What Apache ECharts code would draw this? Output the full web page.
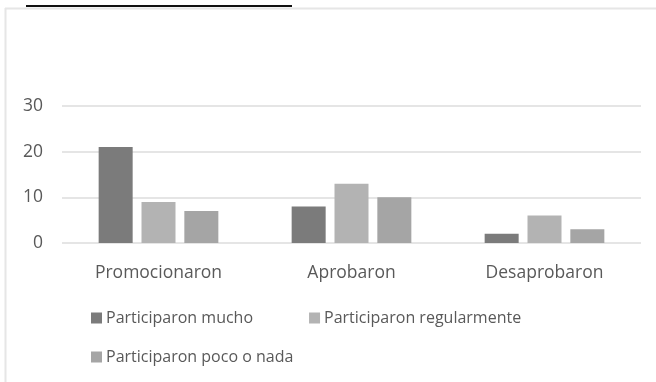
<!DOCTYPE html>
<html>
<head>
<meta charset="utf-8">
<script src="https://cdn.jsdelivr.net/npm/echarts@6/dist/echarts.min.js"></script>
<style>
  html, body { margin: 0; padding: 0; background: #fff; }
  #chart { width: 656px; height: 382px; }
</style>
</head>
<body>
<div id="chart"></div>
<script>
// Resultados por grupo de participación
const categories = ['Promocionaron', 'Aprobaron', 'Desaprobaron'];
const seriesNames = ['Participaron mucho', 'Participaron regularmente', 'Participaron poco o nada'];
const mucho = [21, 8, 2];
const regularmente = [9, 13, 6];
const pocoONada = [7, 10, 3];
const yTicks = [0, 10, 20, 30];

const colors = ['#7b7b7b', '#b3b3b3', '#a5a5a5'];
const textColor = '#595959';
const font = 'Open Sans';

const chart = echarts.init(document.getElementById('chart'));

const values = [mucho, regularmente, pocoONada];

chart.setOption({
  animation: false,
  color: colors,
  textStyle: { fontFamily: font },
  graphic: [
    // light frame around the chart area
    { type: 'line', shape: { x1: 5, y1: 8.5, x2: 656, y2: 8.5 }, style: { stroke: '#e6e6e6', lineWidth: 2 } },
    { type: 'line', shape: { x1: 5.5, y1: 8, x2: 5.5, y2: 382 }, style: { stroke: '#e6e6e6', lineWidth: 2 } },
    // dark rule along the top
    { type: 'line', shape: { x1: 26, y1: 6, x2: 292, y2: 6 }, style: { stroke: '#111', lineWidth: 2 } }
  ],
  grid: { left: 62, right: 15, top: 106, bottom: 139 },
  legend: [
    {
      data: seriesNames.slice(0, 2),
      left: 86, top: 305,
      itemWidth: 11, itemHeight: 11, itemGap: 56,
      icon: 'rect',
      textStyle: { color: textColor, fontSize: 16, fontFamily: font, padding: [0, 0, 0, -1] }
    },
    {
      data: seriesNames.slice(2),
      left: 86, top: 344,
      itemWidth: 11, itemHeight: 11,
      icon: 'rect',
      textStyle: { color: textColor, fontSize: 16, fontFamily: font, padding: [0, 0, 0, -1] }
    }
  ],
  xAxis: {
    type: 'category',
    data: categories,
    axisLine: { show: false },
    axisTick: { show: false },
    axisLabel: { color: textColor, fontSize: 17.5, margin: 21, fontFamily: font }
  },
  yAxis: {
    type: 'value',
    min: yTicks[0],
    max: yTicks[yTicks.length - 1],
    interval: 10,
    axisLine: { show: false },
    axisTick: { show: false },
    axisLabel: { color: textColor, fontSize: 17.5, margin: 19, fontFamily: font },
    splitLine: { lineStyle: { color: '#dcdcdc', width: 1.5 } }
  },
  series: seriesNames.map((name, i) => ({
    name: name,
    type: 'bar',
    data: values[i],
    barWidth: 34,
    barGap: '26%',
    itemStyle: { color: colors[i] }
  }))
});
</script>
</body>
</html>
